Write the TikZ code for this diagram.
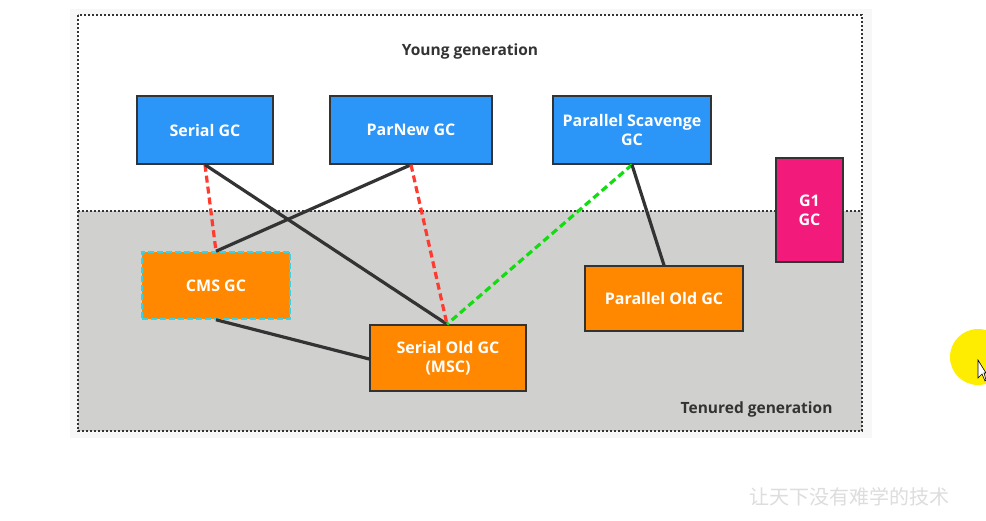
\documentclass[tikz,border=0pt]{standalone}
\usepackage{fontspec}
\setmainfont{Open Sans}
\newfontfamily\cjk{Noto Sans CJK SC}
\definecolor{gcblue}{HTML}{2B95F8}
\definecolor{gcorange}{HTML}{FF8800}
\definecolor{gcpink}{HTML}{F21B7C}
\definecolor{tengray}{HTML}{D0D0CE}
\definecolor{edgegray}{HTML}{333333}
\definecolor{cmsedge}{HTML}{3CD2E6}
\definecolor{redline}{HTML}{FF3B30}
\definecolor{greenline}{HTML}{11DD11}
\definecolor{wmgray}{HTML}{DDDDDD}
\begin{document}
\begin{tikzpicture}[x=1pt,y=-1pt,
  gcbox/.style={draw=edgegray,line width=1.5pt,text=white,font=\bfseries\fontsize{16}{19}\selectfont,align=center,inner sep=0pt},
  young/.style={gcbox,fill=gcblue},
  old/.style={gcbox,fill=gcorange},
  conn/.style={draw=edgegray,line width=3.2pt},
  reddash/.style={draw=redline,line width=3.2pt,dash pattern=on 7pt off 4pt},
  greendash/.style={draw=greenline,line width=3.2pt,dash pattern=on 7pt off 4pt},
  frame/.style={draw=black!80,line width=1.6pt,dash pattern=on 1.6pt off 2.4pt},
  label/.style={text=black!80,font=\bfseries\fontsize{15.5}{18}\selectfont}
]
\useasboundingbox (0,0) rectangle (986,520);
\fill[white] (0,0) rectangle (986,520);
% faint frame background
\fill[black!3] (70,9) rectangle (872,438);
\fill[white] (78,15) rectangle (862,211);
\fill[tengray] (78,211) rectangle (862,431);
\draw[frame] (78,15) rectangle (862,431);
\draw[frame] (78,211) -- (862,211);
\node[label] (yg) at (470,51) {Young generation};
\node[label,anchor=east] (tg) at (836,409) {Tenured generation};

% boxes
\node[young,minimum width=136pt,minimum height=68pt] (serial) at (205,130) {Serial GC};
\node[young,minimum width=162pt,minimum height=68pt] (parnew) at (411,130) {ParNew GC};
\node[young,minimum width=158pt,minimum height=68pt] (ps) at (632,130) {Parallel Scavenge\\GC};
\node[gcbox,fill=gcpink,minimum width=67pt,minimum height=104pt] (g1) at (809.5,210) {G1\\GC};
\node[old,draw=cmsedge,dash pattern=on 6pt off 3pt,minimum width=148pt,minimum height=67pt] (cms) at (216,285.5) {CMS GC};
\node[old,minimum width=156pt,minimum height=66pt] (sold) at (448,358) {Serial Old GC\\(MSC)};
\node[old,minimum width=158pt,minimum height=65pt] (pold) at (664,298.5) {Parallel Old GC};

% connectors
\draw[reddash] (serial.south) -- (cms.north);
\draw[conn] (serial.south) -- ([xshift=-1pt]sold.north);
\draw[conn] (parnew.south) -- (cms.north);
\draw[reddash] (parnew.south) -- ([xshift=-1pt]sold.north);
\draw[greendash] (ps.south) -- ([xshift=-1pt]sold.north);
\draw[conn] (ps.south) -- (pold.north);
\draw[conn] (cms.south) -- ([yshift=-1pt]sold.west);

% watermark
\node[text=wmgray,font=\cjk\fontsize{20}{22}\selectfont] (wm) at (849,497) {让天下没有难学的技术};

% recording highlight
\fill[yellow!95!orange] (978,357) circle (28);
\draw[fill=white,draw=black,line width=0.6pt] (978,360) -- (978,378) -- (982,374) -- (985,381) -- (986,380) -- (984,373) -- (986,373) -- cycle;
\end{tikzpicture}
\end{document}
